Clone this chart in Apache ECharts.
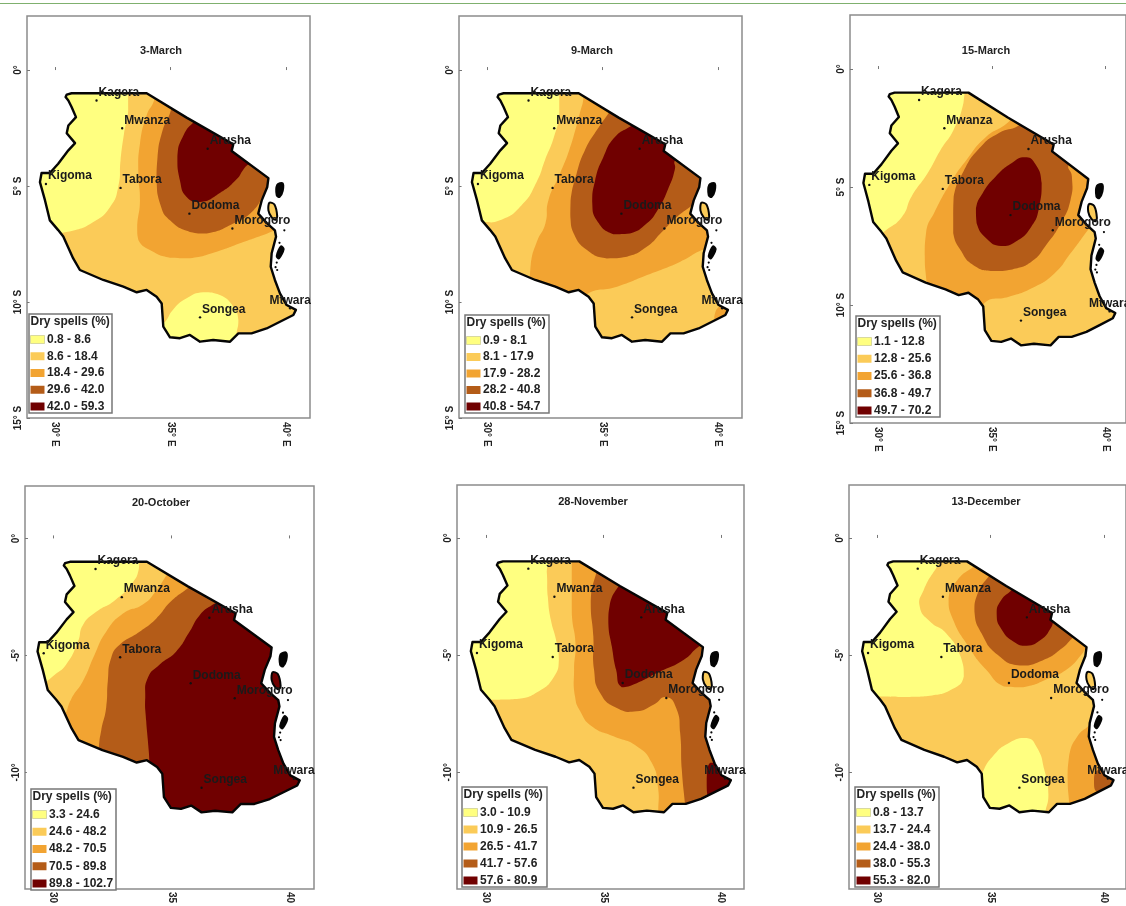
<!DOCTYPE html>
<html>
<head>
<meta charset="utf-8">
<style>html,body{margin:0;padding:0;background:#fff;overflow:hidden}#c{width:1126px;height:906px}</style>
<script src="https://cdn.jsdelivr.net/npm/echarts@6/dist/echarts.min.js"></script>
</head>
<body>
<div id="c"></div>
<script>
// ---- shared geography (lon, lat) ----
const countryOutline = [
[30.58,-1.31],[30.46,-1.16],[30.51,-1.06],[30.72,-1.0],[33.97,-1.0],[35.70,-2.05],[37.72,-3.20],[37.65,-3.49],[39.24,-4.66],[39.19,-5.04],
[38.95,-5.62],[38.80,-6.19],[39.16,-6.59],[39.52,-6.91],[39.57,-7.18],[39.38,-7.90],[39.34,-8.48],[39.52,-9.05],[39.74,-9.63],[40.03,-10.13],
[40.43,-10.34],[40.32,-10.56],[39.74,-10.85],[39.16,-11.14],[38.51,-11.35],[37.94,-11.35],[37.58,-11.71],[36.85,-11.64],[36.28,-11.71],[35.84,-11.42],
[35.41,-11.56],[34.98,-11.52],[34.69,-11.06],[34.62,-10.06],[34.40,-9.77],[33.97,-9.48],[33.54,-9.58],[32.96,-9.34],[32.09,-9.05],[31.08,-8.62],
[30.79,-8.12],[30.36,-7.18],[30.14,-6.90],[29.78,-6.48],[29.57,-5.62],[29.35,-4.83],[29.42,-4.44],[29.78,-4.44],[30.14,-4.04],[30.58,-3.46],
[30.87,-3.15],[30.51,-2.72],[30.58,-2.39],[30.91,-2.03],[30.72,-1.59]];
const pembaIsland = [[39.62,-4.95],[39.85,-4.88],[39.86,-5.2],[39.72,-5.47],[39.6,-5.4]];
const zanzibarIsland = [[39.28,-5.72],[39.5,-5.8],[39.62,-6.3],[39.55,-6.45],[39.38,-6.35],[39.24,-6.05]];
const mafiaIsland = [[39.78,-7.6],[39.9,-7.72],[39.7,-8.12],[39.6,-8.02]];
const isletDots = [[39.93,-6.91],[39.6,-8.3],[39.55,-8.5],[39.62,-8.62],[39.72,-7.45]];
const cityNames = ['Kagera','Mwanza','Arusha','Kigoma','Tabora','Dodoma','Morogoro','Songea','Mtwara'];
const cityLon = [31.80,32.91,36.61,29.61,32.84,35.82,37.68,36.28,40.18];
const cityLat = [-1.31,-2.51,-3.39,-4.91,-5.08,-6.19,-6.83,-10.66,-10.27];
// ---- class colours ----
const classColors = ['#FFFF80','#FBCB58','#F2A432','#B45C18','#700000'];
// ---- axis ticks ----
const lonTicks = [30,35,40];
const latTicksTop = [0,-5,-10,-15];
const latTicksBottom = [0,-5,-10];
// ---- panel titles and legend classes ----
const panelTitles = ['3-March','9-March','15-March','20-October','28-November','13-December'];
const legend3March = ['0.8 - 8.6','8.6 - 18.4','18.4 - 29.6','29.6 - 42.0','42.0 - 59.3'];
const legend9March = ['0.9 - 8.1','8.1 - 17.9','17.9 - 28.2','28.2 - 40.8','40.8 - 54.7'];
const legend15March = ['1.1 - 12.8','12.8 - 25.6','25.6 - 36.8','36.8 - 49.7','49.7 - 70.2'];
const legend20October = ['3.3 - 24.6','24.6 - 48.2','48.2 - 70.5','70.5 - 89.8','89.8 - 102.7'];
const legend28November = ['3.0 - 10.9','10.9 - 26.5','26.5 - 41.7','41.7 - 57.6','57.6 - 80.9'];
const legend13December = ['0.8 - 13.7','13.7 - 24.4','24.4 - 38.0','38.0 - 55.3','55.3 - 82.0'];
// ---- contour regions: [class index, ring of lon/lat], painted in order over a base class ----
const base3March = 1;
const regions3March = [
[0,[[33.13,-0.59],[33.17,-1.74],[32.99,-2.74],[32.84,-3.89],[32.74,-5.04],[32.38,-5.91],[31.66,-6.55],[30.72,-6.94],[29.78,-7.05],[29.06,-7.05],[29.06,-0.59]]],
[0,[[34.62,-11.06],[34.83,-10.78],[35.12,-10.32],[35.70,-9.84],[36.42,-9.58],[37.14,-9.70],[37.72,-10.20],[37.94,-10.78],[37.86,-11.35],[37.72,-12.07],[34.55,-12.07]]],
[2,[[34.40,-0.73],[34.29,-1.31],[33.97,-1.95],[33.68,-3.18],[33.61,-4.47],[33.68,-5.62],[33.56,-6.77],[33.61,-7.33],[34.11,-7.76],[34.98,-8.09],[35.84,-8.11],[37.0,-7.83],[38.01,-7.47],[39.02,-7.11],[39.88,-6.82],[40.7,-6.82],[40.7,-0.73]]],
[3,[[35.27,-1.45],[34.91,-2.03],[34.62,-2.74],[34.44,-3.75],[34.40,-4.76],[34.55,-5.76],[34.98,-6.48],[35.84,-6.98],[36.57,-7.05],[37.72,-6.62],[38.59,-6.05],[39.16,-5.26],[39.6,-5.04],[39.88,-4.18],[36.28,-1.31]]],
[4,[[36.42,-1.95],[36.06,-2.20],[35.56,-2.82],[35.30,-3.75],[35.41,-4.76],[35.70,-5.47],[36.28,-5.69],[37.14,-5.30],[37.86,-4.71],[38.18,-4.25],[38.59,-3.75],[38.0,-2.74]]]];
const base9March = 1;
const regions9March = [
[0,[[33.13,-0.59],[33.13,-1.88],[32.90,-2.89],[32.51,-3.89],[32.15,-4.83],[31.50,-5.83],[30.56,-6.48],[29.62,-6.59],[29.06,-6.8],[29.06,-0.59]]],
[2,[[34.39,-0.80],[34.14,-1.45],[33.88,-2.39],[33.56,-3.46],[33.16,-4.47],[32.66,-5.62],[32.53,-6.61],[32.16,-7.40],[31.90,-8.33],[31.85,-9.34],[34.33,-10.2],[34.33,-9.67],[35.63,-9.34],[36.93,-8.84],[38.37,-8.26],[39.31,-7.76],[40.53,-7.33],[40.7,-0.80]]],
[2,[[40.17,-10.13],[39.84,-10.63],[39.96,-11.0],[40.7,-11.0],[40.7,-10.13]]],
[3,[[35.61,-1.38],[35.25,-1.88],[34.75,-2.60],[34.24,-3.46],[33.88,-4.47],[33.62,-5.62],[33.61,-6.32],[33.75,-7.04],[34.33,-7.76],[35.19,-8.12],[36.06,-8.05],[36.93,-7.61],[37.58,-6.97],[38.23,-6.32],[38.80,-5.89],[39.5,-5.3],[39.9,-3.9],[37.5,-2.0]]],
[4,[[36.62,-2.10],[36.26,-2.39],[35.54,-2.89],[35.04,-3.75],[34.68,-4.76],[34.56,-5.76],[34.75,-6.48],[35.47,-7.08],[36.19,-7.05],[36.91,-6.62],[37.42,-5.98],[37.85,-5.11],[38.14,-4.25],[38.14,-3.89],[38.64,-3.32],[37.2,-1.74]]]];
const base15March = 1;
const regions15March = [
[0,[[33.82,-0.59],[33.75,-1.44],[33.32,-2.57],[32.75,-3.42],[32.18,-4.41],[31.47,-5.40],[31.05,-6.26],[30.27,-6.89],[29.63,-7.39],[29.06,-7.39],[29.06,-0.59]]],
[2,[[36.24,-1.94],[35.53,-2.40],[34.74,-2.88],[33.89,-3.84],[33.18,-4.83],[32.46,-6.10],[32.12,-6.82],[32.05,-7.95],[32.12,-8.94],[32.19,-9.65],[34.62,-10.49],[34.69,-9.90],[35.75,-9.65],[36.75,-9.29],[37.75,-8.66],[38.46,-7.81],[39.06,-7.03],[39.46,-6.47],[39.89,-5.55],[40.5,-4.0],[38.0,-2.0]]],
[3,[[36.60,-2.01],[36.17,-2.40],[35.31,-2.71],[34.46,-3.35],[33.75,-4.34],[33.32,-5.40],[33.30,-6.26],[33.30,-6.96],[33.62,-7.67],[34.19,-8.31],[35.04,-8.56],[35.90,-8.49],[36.75,-8.16],[37.39,-7.46],[38.03,-6.54],[38.46,-5.55],[38.52,-4.55],[38.38,-4.05],[39.02,-3.42],[37.73,-2.01]]],
[4,[[36.45,-3.74],[36.88,-3.98],[37.19,-4.83],[37.09,-5.82],[36.74,-6.67],[36.04,-7.32],[35.40,-7.50],[34.76,-7.18],[34.33,-6.54],[34.30,-5.90],[34.60,-5.25],[35.17,-4.55],[35.88,-3.98]]]];
const base20October = 4;
const regions20October = [
[3,[[37.32,-2.51],[36.76,-2.83],[36.20,-3.28],[35.77,-3.99],[35.21,-4.83],[34.51,-5.39],[34.01,-5.96],[33.90,-6.80],[33.94,-7.79],[34.01,-8.63],[34.08,-9.62],[34.08,-10.61],[29.06,-10.61],[29.06,-0.59],[37.32,-0.59]]],
[2,[[36.20,-1.66],[35.80,-2.04],[34.99,-2.69],[34.37,-3.42],[33.66,-3.99],[32.82,-4.55],[32.46,-5.11],[32.32,-6.10],[32.25,-7.23],[32.04,-8.21],[31.94,-8.92],[31.90,-9.76],[29.06,-9.76],[29.06,-0.59],[36.20,-0.59]]],
[1,[[35.07,-1.17],[34.86,-1.48],[34.30,-2.32],[33.80,-2.82],[32.96,-3.21],[32.25,-3.99],[31.76,-4.97],[31.27,-6.10],[30.77,-6.87],[30.49,-7.58],[30.14,-8.07],[29.06,-8.07],[29.06,-0.59],[35.07,-0.59]]],
[0,[[33.66,-0.75],[33.63,-1.31],[33.38,-1.87],[32.61,-2.65],[31.83,-3.14],[31.27,-3.70],[31.06,-4.41],[30.56,-5.39],[30.0,-5.89],[29.58,-6.27],[29.06,-6.8],[29.06,-0.75]]]];
const base28November = 1;
const regions28November = [
[0,[[32.51,-0.67],[32.59,-1.52],[32.63,-2.51],[32.76,-3.50],[32.98,-4.35],[33.10,-5.21],[32.90,-5.91],[32.23,-6.55],[31.31,-6.88],[30.31,-6.91],[29.06,-6.91],[29.06,-0.67]]],
[2,[[33.65,-0.67],[33.65,-2.23],[33.66,-3.36],[33.81,-4.50],[33.75,-5.63],[33.79,-6.77],[34.01,-7.40],[34.50,-8.04],[35.43,-8.47],[36.42,-8.89],[37.06,-9.60],[37.32,-10.60],[37.34,-11.73],[37.34,-12.30],[40.7,-12.30],[40.7,-0.67]]],
[3,[[34.93,-1.23],[34.67,-1.59],[34.46,-2.79],[34.57,-4.21],[34.60,-5.63],[34.86,-6.62],[35.57,-7.26],[36.42,-7.40],[37.13,-7.12],[37.67,-6.79],[38.10,-7.26],[38.27,-8.33],[38.34,-9.89],[38.48,-11.38],[38.55,-12.16],[40.7,-12.16],[40.7,-1.23]]],
[4,[[35.99,-1.66],[35.68,-2.01],[35.28,-2.79],[35.21,-3.65],[35.36,-4.64],[35.54,-5.63],[35.78,-6.37],[36.42,-6.20],[37.27,-5.77],[38.41,-5.21],[39.05,-4.64],[39.55,-4.35],[37.56,-2.37]]],
[4,[[39.55,-9.60],[39.40,-10.31],[39.47,-11.09],[40.7,-11.09],[40.7,-9.60]]]];
const base13December = 1;
const regions13December = [
[0,[[33.05,-0.67],[32.70,-1.16],[32.06,-2.23],[31.89,-2.94],[32.34,-3.57],[33.05,-4.07],[33.69,-5.06],[33.83,-5.91],[33.33,-6.45],[32.34,-6.74],[31.35,-6.79],[30.21,-6.77],[29.06,-6.77],[29.06,-0.67]]],
[0,[[34.40,-10.74],[34.65,-10.03],[35.11,-9.32],[35.82,-8.75],[36.60,-8.54],[37.06,-8.96],[37.38,-9.89],[37.56,-10.95],[37.42,-11.73],[37.30,-12.44],[34.18,-12.44]]],
[2,[[34.54,-1.09],[34.26,-1.23],[33.55,-1.80],[33.16,-2.58],[33.33,-3.43],[34.04,-4.64],[34.82,-5.63],[35.60,-6.34],[36.45,-6.37],[37.59,-5.99],[38.44,-5.56],[39.01,-4.99],[39.26,-4.64],[39.86,-4.07],[37.02,-1.94]]],
[3,[[35.25,-1.38],[34.94,-1.63],[34.44,-2.37],[34.30,-3.15],[34.61,-4.07],[35.32,-4.99],[36.31,-5.45],[37.30,-5.23],[38.16,-4.71],[38.61,-4.28],[39.15,-3.79],[36.74,-1.94]]],
[4,[[36.17,-1.94],[35.96,-2.20],[35.46,-2.68],[35.28,-3.25],[35.49,-3.90],[36.03,-4.43],[36.60,-4.60],[37.23,-4.35],[37.66,-3.86],[37.83,-3.43],[38.16,-2.94],[37.02,-1.80]]],
[2,[[39.57,-7.83],[39.36,-8.01],[38.84,-8.47],[38.47,-9.32],[38.41,-10.31],[38.48,-11.38],[38.51,-12.16],[40.7,-12.16],[40.7,-7.83]]],
[3,[[39.76,-9.89],[39.57,-10.38],[39.74,-10.88],[40.7,-10.88],[40.7,-9.89]]]];

// ---- layout (pixels) ----
const panels = [
 {box:[27,16,283,402], lon:[28.79,41.04], lat:[-15.0,2.33], latTicks:latTicksTop, north:true, base:base3March, regions:regions3March, legend:legend3March, lg:[29,314,83,99], tx:161, ty:50, zan:1},
 {box:[459,16,283,402], lon:[28.79,41.04], lat:[-15.0,2.33], latTicks:latTicksTop, north:true, base:base9March, regions:regions9March, legend:legend9March, lg:[465,315,84,98], tx:592, ty:50, zan:1},
 {box:[850,15,284,408], lon:[28.76,40.90], lat:[-15.0,2.29], latTicks:latTicksTop, north:true, base:base15March, regions:regions15March, legend:legend15March, lg:[856,316,84,101], tx:986, ty:50, zan:1},
 {box:[25,486,289,408], lon:[28.82,41.03], lat:[-14.98,2.24], latTicks:latTicksBottom, north:false, base:base20October, regions:regions20October, legend:legend20October, lg:[31,789,85,101], tx:161, ty:502, zan:4},
 {box:[457,485,287,405], lon:[28.76,40.99], lat:[-14.98,2.26], latTicks:latTicksBottom, north:false, base:base28November, regions:regions28November, legend:legend28November, lg:[462,787,85,100], tx:593, ty:501, zan:1},
 {box:[849,485,287,405], lon:[28.77,40.98], lat:[-14.98,2.26], latTicks:latTicksBottom, north:false, base:base13December, regions:regions13December, legend:legend13December, lg:[855,787,84,100], tx:986, ty:501, zan:1}
];
const FONT = '"Liberation Sans", Arial, sans-serif';
const MASK = {w:28.9,e:40.85,n:-0.3,s:-12.8};

const chart = echarts.init(document.getElementById('c'), null, {renderer:'canvas'});

function mapSeries(i, items, z, render){
  return {type:'custom', coordinateSystem:'cartesian2d', xAxisIndex:i, yAxisIndex:i, silent:true, animation:false, clip:false, z:z,
    encode:{x:0,y:1},
    data:items.map((it,k)=>[35,-6,k]),
    renderItem:(p,api)=>render(items[api.value(2)],api)};
}
const ringPts=(ring,api)=>ring.map(c=>api.coord(c));
function bbox(pts){
  const xs=pts.map(p=>p[0]),ys=pts.map(p=>p[1]);
  return [[Math.min(...xs),Math.min(...ys)],[Math.max(...xs),Math.max(...ys)]];
}

const grids=[],xAxes=[],yAxes=[],series=[],titles=[],graphics=[];
panels.forEach((P,i)=>{
  grids.push({left:P.box[0],top:P.box[1],width:P.box[2],height:P.box[3],show:true,borderColor:'#8c8c8c',borderWidth:1.5,backgroundColor:'#fff',containLabel:false});
  xAxes.push({type:'value',gridIndex:i,min:P.lon[0],max:P.lon[1],splitLine:{show:false},axisLine:{show:false},
    axisTick:{show:true,inside:true,length:3,customValues:lonTicks,lineStyle:{color:'#777',width:1}},
    axisLabel:{show:true,customValues:lonTicks,rotate:-90,margin:P.north?4:3,color:'#222',fontFamily:FONT,fontWeight:'bold',fontSize:10,
      formatter:v=>P.north?(v+'° E'):(''+v)}});
  yAxes.push({type:'value',gridIndex:i,min:P.lat[0],max:P.lat[1],splitLine:{show:false},axisLine:{show:false},
    axisTick:{show:true,inside:true,length:3,customValues:P.latTicks,lineStyle:{color:'#777',width:1}},
    axisLabel:{show:true,customValues:P.latTicks,rotate:90,margin:4,color:'#222',fontFamily:FONT,fontWeight:'bold',fontSize:10,
      formatter:v=>v===0?'0°':(P.north?(Math.abs(v)+'° S'):(v+'°'))}});
  titles.push({text:panelTitles[i],left:P.tx,top:P.ty-5,textAlign:'center',padding:0,textStyle:{fontFamily:FONT,fontSize:11,fontWeight:'bold',color:'#222'}});

  // base fill
  series.push(mapSeries(i,[countryOutline],2,(ring,api)=>({type:'polygon',shape:{points:ringPts(ring,api)},style:{fill:classColors[P.base]}})));
  // contour bands
  series.push(mapSeries(i,P.regions,3,(r,api)=>{
    const pts=ringPts(r[1],api);
    return {type:'polygon',shape:{points:pts,smooth:0.55,smoothConstraint:bbox(pts)},style:{fill:classColors[r[0]]}};
  }));
  // white mask outside the country
  series.push(mapSeries(i,[countryOutline],4,(ring,api)=>{
    const rect=[[MASK.w,MASK.n],[MASK.w,MASK.s],[MASK.e,MASK.s],[MASK.e,MASK.n],[MASK.w,MASK.n]];
    const pts=rect.concat(ring,[ring[0],rect[0]]);
    return {type:'polygon',shape:{points:ringPts(pts,api)},style:{fill:'#fff'}};
  }));
  // country border
  series.push(mapSeries(i,[countryOutline],5,(ring,api)=>({type:'polygon',shape:{points:ringPts(ring,api)},style:{fill:'none',stroke:'#050505',lineWidth:2.4,lineJoin:'round'}})));
  // islands
  const islands=[[pembaIsland,'#050505'],[zanzibarIsland,classColors[P.zan]],[mafiaIsland,'#050505']];
  series.push(mapSeries(i,islands,5,(it,api)=>({type:'polygon',shape:{points:ringPts(it[0],api),smooth:0.3},style:{fill:it[1],stroke:'#050505',lineWidth:2}})));
  series.push(mapSeries(i,isletDots,5,(c,api)=>{const q=api.coord(c);return {type:'circle',shape:{cx:q[0],cy:q[1],r:1.1},style:{fill:'#050505'}};}));
  // cities
  series.push(mapSeries(i,cityNames,6,(n,api)=>{
    const k=cityNames.indexOf(n),q=api.coord([cityLon[k],cityLat[k]]),centred=n==='Mtwara';
    return {type:'group',children:[
      {type:'circle',shape:{cx:q[0],cy:q[1],r:1.2},style:{fill:'#111'}},
      {type:'text',style:{text:n,x:q[0]+(centred?0:2),y:q[1]-8,align:centred?'center':'left',verticalAlign:'middle',font:'bold 12px '+FONT,fill:'#1a1a1a'}}
    ]};
  }));
  // legend
  const L=P.lg;
  graphics.push({type:'rect',z:100,shape:{x:L[0],y:L[1],width:L[2],height:L[3]},style:{fill:'#fff',stroke:'#777',lineWidth:1.5}});
  graphics.push({type:'text',z:101,x:L[0]+1.5,y:L[1]+7.5,style:{text:'Dry spells (%)',font:'bold 12px '+FONT,fill:'#222',verticalAlign:'middle'}});
  P.legend.forEach((t,k)=>{
    const cy=L[1]+25.5+k*(L[3]-32)/4;
    graphics.push({type:'rect',z:101,shape:{x:L[0]+1.5,y:cy-4,width:14,height:8},style:{fill:classColors[k],stroke:k===0?'#c8c890':'none',lineWidth:0.7}});
    graphics.push({type:'text',z:101,x:L[0]+18,y:cy,style:{text:t,font:'bold 12px '+FONT,fill:'#222',verticalAlign:'middle'}});
  });
});
graphics.push({type:'rect',z:100,shape:{x:0,y:3,width:1126,height:1},style:{fill:'#7fb06e'}});

chart.setOption({animation:false,backgroundColor:'#fff',title:titles,grid:grids,xAxis:xAxes,yAxis:yAxes,series:series,graphic:graphics,tooltip:{show:false}});
</script>
</body>
</html>
